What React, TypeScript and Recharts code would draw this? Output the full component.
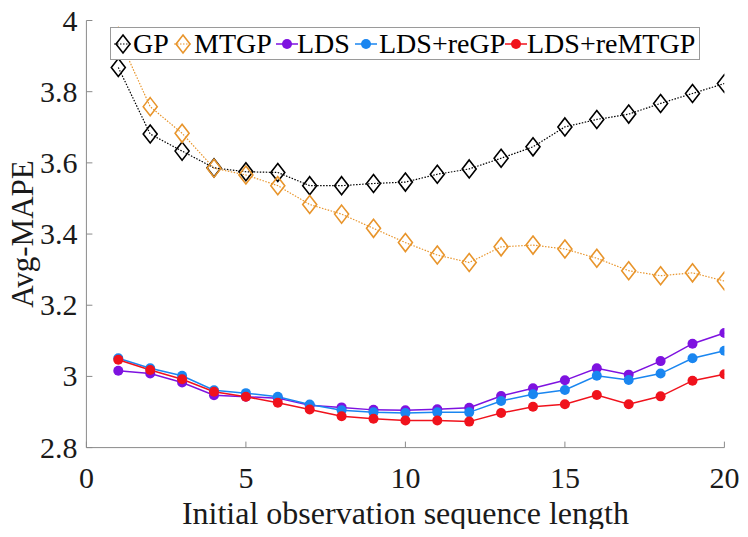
import { LineChart, Line, XAxis, YAxis } from "recharts";

const lengths = [1, 2, 3, 4, 5, 6, 7, 8, 9, 10, 11, 12, 13, 14, 15, 16, 17, 18, 19, 20];

const gp = [
  3.868, 3.681, 3.633, 3.586, 3.575, 3.573, 3.536, 3.536, 3.542, 3.546,
  3.568, 3.583, 3.613, 3.645, 3.701, 3.722, 3.737, 3.767, 3.795, 3.823,
];
const mtgp = [
  3.955, 3.758, 3.683, 3.585, 3.566, 3.536, 3.483, 3.456, 3.416, 3.376,
  3.341, 3.32, 3.364, 3.369, 3.358, 3.332, 3.297, 3.283, 3.291, 3.268,
];
const lds = [
  3.016, 3.008, 2.983, 2.947, 2.943, 2.939, 2.919, 2.913, 2.906, 2.905,
  2.908, 2.912, 2.945, 2.967, 2.989, 3.023, 3.005, 3.043, 3.092, 3.122,
];
const ldsReGp = [
  3.051, 3.023, 3.002, 2.961, 2.953, 2.943, 2.921, 2.905, 2.899, 2.897,
  2.899, 2.899, 2.931, 2.95, 2.962, 3.002, 2.99, 3.008, 3.051, 3.072,
];
const ldsReMtgp = [
  3.047, 3.018, 2.992, 2.957, 2.943, 2.926, 2.907, 2.888, 2.881, 2.876,
  2.876, 2.873, 2.897, 2.915, 2.922, 2.948, 2.922, 2.944, 2.988, 3.006,
];

const xTicks = [0, 5, 10, 15, 20];
const yTicks = [2.8, 3, 3.2, 3.4, 3.6, 3.8, 4];

const data = lengths.map((x, i) => ({
  x,
  gp: gp[i],
  mtgp: mtgp[i],
  lds: lds[i],
  ldsReGp: ldsReGp[i],
  ldsReMtgp: ldsReMtgp[i],
}));

const FONT = "Liberation Serif, Tinos, DejaVu Serif, serif";
const AXIS = "#8a8a8a";
const BLACK = "#000000";
const ORANGE = "#E8952C";
const PURPLE = "#7E12E0";
const BLUE = "#1A86F0";
const RED = "#F0121C";

const fmt = (v: number) => (Number.isInteger(v) ? String(v) : v.toFixed(1));

const XTick = (props: any) => {
  const { x, y, payload } = props;
  return (
    <g>
      <line x1={x} y1={y} x2={x} y2={y - 6} stroke={AXIS} strokeWidth={1} />
      <text x={x} y={y + 40} textAnchor="middle" fontFamily={FONT} fontSize={30} fill="#1a1a1a">
        {fmt(payload.value)}
      </text>
    </g>
  );
};

const YTick = (props: any) => {
  const { x, y, payload } = props;
  return (
    <g>
      <line x1={x} y1={y} x2={x + 6} y2={y} stroke={AXIS} strokeWidth={1} />
      <text x={x - 9} y={y + 10} textAnchor="end" fontFamily={FONT} fontSize={30} fill="#1a1a1a">
        {fmt(payload.value)}
      </text>
    </g>
  );
};

const diamond = (color: string) => (props: any) => {
  const { cx, cy, index } = props;
  if (cx == null || cy == null) return <g key={index} />;
  return (
    <polygon
      key={index}
      points={`${cx},${cy - 9} ${cx + 7},${cy} ${cx},${cy + 9} ${cx - 7},${cy}`}
      fill="none"
      stroke={color}
      strokeWidth={1.6}
    />
  );
};

const LegendDiamond = ({ color }: { color: string }) => (
  <svg width={22} height={24} style={{ display: "block" }}>
    <line x1={2} y1={12} x2={20} y2={12} stroke={color} strokeWidth={1} strokeDasharray="1.5 1.5" />
    <polygon points="11,3 18,12 11,21 4,12" fill="none" stroke={color} strokeWidth={1.6} />
  </svg>
);

const LegendDot = ({ color }: { color: string }) => (
  <svg width={22} height={24} style={{ display: "block" }}>
    <line x1={0} y1={12} x2={22} y2={12} stroke={color} strokeWidth={1.5} />
    <circle cx={11} cy={12} r={5} fill={color} />
  </svg>
);

const legendItems = [
  { label: "GP", mark: <LegendDiamond color={BLACK} />, markLeft: 1, textLeft: 22 },
  { label: "MTGP", mark: <LegendDiamond color={ORANGE} />, markLeft: 61, textLeft: 83 },
  { label: "LDS", mark: <LegendDot color={PURPLE} />, markLeft: 165, textLeft: 186 },
  { label: "LDS+reGP", mark: <LegendDot color={BLUE} />, markLeft: 244, textLeft: 268 },
  { label: "LDS+reMTGP", mark: <LegendDot color={RED} />, markLeft: 394, textLeft: 416 },
];

export default function App() {
  return (
    <div style={{ position: "relative", width: 748, height: 537, margin: -8 }}>
      <LineChart
        width={748}
        height={537}
        data={data}
        margin={{ top: 20.5, right: 23.6, bottom: 29.4, left: 0 }}
      >
        <XAxis
          dataKey="x"
          type="number"
          domain={[0, 20]}
          ticks={xTicks}
          allowDataOverflow
          axisLine={{ stroke: AXIS, strokeWidth: 1 }}
          tickLine={false}
          tickSize={0}
          tickMargin={0}
          tick={<XTick />}
          height={60}
          label={{
            content: (p: any) => {
              const vb = p.viewBox;
              return (
                <text
                  x={vb.x + vb.width / 2}
                  y={vb.y + 76}
                  textAnchor="middle"
                  fontFamily={FONT}
                  fontSize={32}
                  fill="#1a1a1a"
                >
                  Initial observation sequence length
                </text>
              );
            },
          }}
        />
        <YAxis
          type="number"
          domain={[2.8, 4]}
          ticks={yTicks}
          allowDataOverflow
          width={86.4}
          axisLine={{ stroke: AXIS, strokeWidth: 1 }}
          tickLine={false}
          tickSize={0}
          tickMargin={0}
          tick={<YTick />}
          label={{
            content: (p: any) => {
              const vb = p.viewBox;
              const cx = 23;
              const cy = vb.y + vb.height / 2;
              return (
                <text
                  x={cx}
                  y={cy}
                  transform={`rotate(-90 ${cx} ${cy})`}
                  textAnchor="middle"
                  dominantBaseline="central"
                  fontFamily={FONT}
                  fontSize={31}
                  fill="#1a1a1a"
                >
                  Avg-MAPE
                </text>
              );
            },
          }}
        />
        <Line
          dataKey="gp"
          stroke={BLACK}
          strokeWidth={1.2}
          strokeDasharray="1.5 1.5"
          dot={diamond(BLACK)}
          activeDot={false}
          isAnimationActive={false}
        />
        <Line
          dataKey="mtgp"
          stroke={ORANGE}
          strokeWidth={1.2}
          strokeDasharray="1.5 1.5"
          dot={diamond(ORANGE)}
          activeDot={false}
          isAnimationActive={false}
        />
        <Line
          dataKey="lds"
          stroke={PURPLE}
          strokeWidth={1.5}
          dot={{ r: 5, fill: PURPLE, stroke: "none" }}
          activeDot={false}
          isAnimationActive={false}
        />
        <Line
          dataKey="ldsReGp"
          stroke={BLUE}
          strokeWidth={1.5}
          dot={{ r: 5, fill: BLUE, stroke: "none" }}
          activeDot={false}
          isAnimationActive={false}
        />
        <Line
          dataKey="ldsReMtgp"
          stroke={RED}
          strokeWidth={1.5}
          dot={{ r: 5, fill: RED, stroke: "none" }}
          activeDot={false}
          isAnimationActive={false}
        />
      </LineChart>
      <div
        style={{
          position: "absolute",
          left: 110,
          top: 27,
          width: 590,
          height: 33,
          boxSizing: "border-box",
          border: "1px solid #9a9a9a",
          background: "#fff",
          fontFamily: FONT,
          fontSize: 28,
          color: "#000",
        }}
      >
        {legendItems.map((it) => (
          <div key={it.label}>
            <div style={{ position: "absolute", left: it.markLeft, top: 4 }}>{it.mark}</div>
            <span style={{ position: "absolute", left: it.textLeft, top: 0, lineHeight: "32px" }}>
              {it.label}
            </span>
          </div>
        ))}
      </div>
    </div>
  );
}
